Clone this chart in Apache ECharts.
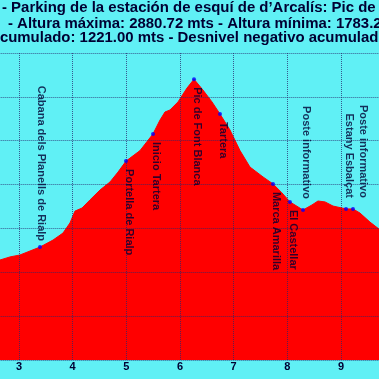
<!DOCTYPE html>
<html>
<head>
<meta charset="utf-8">
<script src="https://cdn.jsdelivr.net/npm/echarts@6/dist/echarts.min.js"></script>
<style>
html,body{margin:0;padding:0;background:#60F0F5;}
#chart{width:379px;height:379px;}
</style>
</head>
<body>
<div id="chart"></div>
<script>
// Title lines (visible portions of the original, which is cropped)
const titleLines = [
  "- Parking de la estación de esquí de d\u2019Arcalís: Pic de Font Blanca",
  "- Altura máxima: 2880.72 mts - Altura mínima: 1783.25 mts",
  "acumulado: 1221.00 mts - Desnivel negativo acumulado:"
];

// Elevation profile (km, metres)
const profileKm = [2.55, 2.646, 2.832, 3.019, 3.391, 3.634, 3.820, 3.950, 4.043, 4.174, 4.323, 4.509, 4.696, 4.845, 4.994, 5.255, 5.497, 5.627, 5.720, 5.813, 5.963, 6.130, 6.261, 6.428, 6.596, 6.745, 6.931, 7.118, 7.304, 7.546, 7.733, 7.900, 8.049, 8.292, 8.459, 8.571, 8.702, 8.851, 9.093, 9.223, 9.354, 9.540, 9.708, 9.80];
const profileElev = [2050, 2056, 2070, 2079, 2115, 2147, 2179, 2225, 2279, 2293, 2330, 2375, 2412, 2457, 2507, 2555, 2631, 2694, 2731, 2740, 2777, 2840, 2880.72, 2831, 2777, 2722, 2649, 2555, 2480, 2435, 2403, 2362, 2321, 2284, 2307, 2325, 2321, 2302, 2289, 2289, 2270, 2229, 2197, 2180];

// Waypoints
const wpNames = ["Cabana dels Planells de Rialp", "Portella de Rialp", "Inicio Tartera", "Pic de Font Blanca", "Tartera", "Marca Amarilla", "El Castellar", "Poste informativo", "", "Poste informativo\nEstany Esbalçat"];
const wpKm = [3.391, 4.994, 5.497, 6.261, 6.745, 7.733, 8.049, 8.292, 9.093, 9.223];
const wpElev = [2115, 2507, 2631, 2880.72, 2722, 2403, 2321, 2284, 2289, 2289];

// Axis ticks
const xMin = 2, xMax = 10, xStep = 1;
const yMin = 1600, yMax = 3000, yStep = 200;

// label placement (above the marker or below it)
const labelAbove = new Set(["Cabana dels Planells de Rialp", "Poste informativo", "Poste informativo\nEstany Esbalçat"]);

const FONT = '"Liberation Sans", Arial, sans-serif';
const TXT = '#000033';

const chart = echarts.init(document.getElementById('chart'), null, {renderer: 'canvas'});

const profileData = profileKm.map((k, i) => [k, profileElev[i]]);
const wpData = wpNames.map((n, i) => {
  const up = labelAbove.has(n);
  return {
    name: n,
    value: [wpKm[i], wpElev[i]],
    label: {
      position: up ? 'top' : 'bottom',
      align: up ? 'right' : 'left',
      distance: up ? (n.startsWith('Cabana') ? 4 : 9) : 6,
      offset: [0, n.startsWith('Cabana') ? -1 : -3]
    }
  };
});

const titleY = [8, 23.5, 38];
const titleX = [2, 8, -8.4];

const option = {
  animation: false,
  backgroundColor: '#60F0F5',
  grid: {
    left: -34.67, right: -15.67, top: 53, bottom: 19,
    containLabel: false, outerBoundsMode: 'none'
  },
  graphic: titleLines.map((t, i) => ({
    type: 'text',
    x: titleX[i], y: titleY[i],
    z: 100,
    style: {
      text: t,
      font: 'bold 14.95px ' + FONT,
      fill: TXT,
      textAlign: 'left',
      textVerticalAlign: 'middle'
    }
  })),
  xAxis: {
    type: 'value', min: xMin, max: xMax, interval: xStep, z: 5,
    axisLine: {show: false}, axisTick: {show: false},
    axisLabel: {color: TXT, fontSize: 11, fontWeight: 'bold', fontFamily: FONT, margin: 1},
    splitLine: {show: true, lineStyle: {color: 'rgba(40,40,110,0.75)', type: 'dotted', width: 1}}
  },
  yAxis: {
    type: 'value', min: yMin, max: yMax, interval: yStep, z: 5,
    axisLine: {show: false}, axisTick: {show: false},
    axisLabel: {show: false},
    splitLine: {show: true, lineStyle: {color: 'rgba(40,40,110,0.75)', type: 'dotted', width: 1}}
  },
  series: [
    {
      type: 'line', data: profileData, showSymbol: false, smooth: false,
      lineStyle: {color: '#ff0000', width: 1},
      areaStyle: {color: '#ff0000', opacity: 1},
      z: 2
    },
    {
      type: 'scatter', data: wpData, symbol: 'circle', symbolSize: 4,
      itemStyle: {color: '#0000ff'},
      z: 10,
      label: {
        show: true, formatter: p => p.name, rotate: -90,
        verticalAlign: 'middle',
        color: TXT, fontSize: 11, fontWeight: 'bold', fontFamily: FONT, lineHeight: 14
      }
    }
  ]
};
chart.setOption(option);
</script>
</body>
</html>
